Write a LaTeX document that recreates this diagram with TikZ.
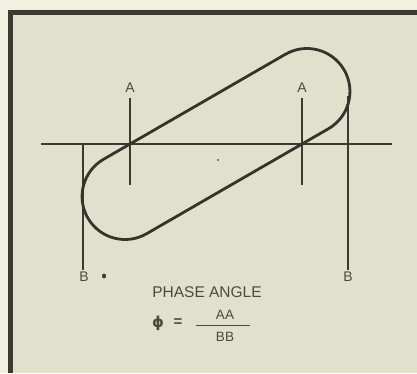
\documentclass[tikz,border=0pt]{standalone}
\usepackage{fontspec}
\setmainfont{Liberation Sans}
\newfontfamily\phifont{DejaVu Sans}
\definecolor{paper}{HTML}{F1F1E0}
\definecolor{panel}{HTML}{DFE1CD}
\definecolor{ink}{HTML}{3A3A30}
\definecolor{txt}{HTML}{4A4A40}
\begin{document}
\begin{tikzpicture}[x=1pt,y=1pt,
  guide/.style={draw=ink,line width=1.1pt},
  curve/.style={draw=ink!90!black,line width=2.8pt},
  lbl/.style={text=txt,font=\fontsize{14}{14}\selectfont,inner sep=0pt},
  frac/.style={text=txt,font=\fontsize{13.5}{13.5}\selectfont,inner sep=0pt},
  captext/.style={text=txt,font=\fontsize{15.5}{15.5}\selectfont,inner sep=0pt}]
\useasboundingbox (0,0) rectangle (417,373);
\fill[paper] (0,0) rectangle (417,373);
\fill[panel] (11,0) rectangle (417,360);
\draw[ink,line width=5pt] (10.5,0) -- (10.5,360.5) -- (417,360.5);
% coordinates
\coordinate (hl) at (41,229);
\coordinate (hr) at (392,229);
\coordinate (a1t) at (130,275);
\coordinate (a1b) at (130,188);
\coordinate (a2t) at (302,275);
\coordinate (a2b) at (302,188);
\coordinate (b1t) at (83,229);
\coordinate (b1b) at (83,103);
\coordinate (b2t) at (348,277);
\coordinate (b2b) at (348,103);
\coordinate (ctr) at (216,229);
% guide lines
\draw[guide] (hl) -- (hr);
\draw[guide] (a1t) -- (a1b);
\draw[guide] (a2t) -- (a2b);
\draw[guide] (b1t) -- (b1b);
\draw[guide] (b2t) -- (b2b);
% stadium
\begin{scope}[shift={(ctr)},rotate=30]
\draw[curve] (-105,43) -- (105,43) arc (90:-90:43) -- (-105,-43) arc (270:90:43) -- cycle;
\end{scope}
\fill[ink] (218,213) circle (1pt);
\fill[ink] (104,97) ellipse (2pt and 2.5pt);
% labels
\node[lbl,anchor=south] (la1) at (130,280) {A};
\node[lbl,anchor=south] (la2) at (302,280) {A};
\node[lbl,anchor=north] (lb1) at (84,101) {B};
\node[lbl,anchor=north] (lb2) at (348,101) {B};
\node[captext] (title) at (207,81) {PHASE ANGLE};
\node[captext,font=\phifont\bfseries\fontsize{15}{15}\selectfont] (phi) at (158,50) {ϕ};
\node[captext,font=\bfseries\fontsize{15}{15}\selectfont] (eq) at (178,50) {=};
\coordinate (fl) at (196,48);
\coordinate (fr) at (250,48);
\draw[txt,line width=1pt] (fl) -- (fr);
\node[frac] (num) at (225,58) {AA};
\node[frac] (den) at (225,36) {BB};
\end{tikzpicture}
\end{document}
